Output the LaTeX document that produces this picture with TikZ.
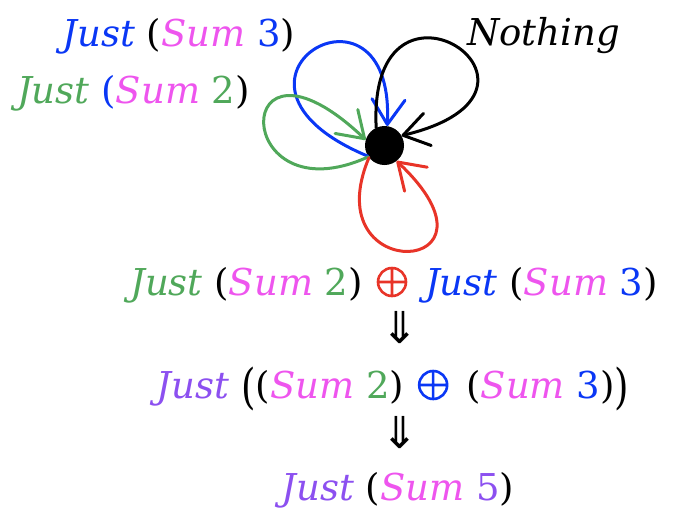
\documentclass[tikz,border=0pt]{standalone}
\usepackage{fontspec}
\setmainfont{DejaVu Serif}
\newfontfamily\symf{DejaVu Sans}
\usetikzlibrary{arrows.meta}
\definecolor{jblue}{RGB}{10,55,245}
\definecolor{jmag}{RGB}{238,85,238}
\definecolor{jgreen}{RGB}{80,168,90}
\definecolor{jred}{RGB}{232,52,40}
\definecolor{jpurple}{RGB}{140,80,240}
\newcommand\cb[1]{\textcolor{jblue}{#1}}
\newcommand\cm[1]{\textcolor{jmag}{#1}}
\newcommand\cg[1]{\textcolor{jgreen}{#1}}
\newcommand\cre[1]{\textcolor{jred}{#1}}
\newcommand\cp[1]{\textcolor{jpurple}{#1}}
\newcommand\oplusd[1]{\hspace{2pt}\tikz[baseline=0pt,x=1pt,y=1pt]{\draw[#1,line width=2.6pt] (15,13) circle (14pt) (1,13)--(29,13) (15,-1)--(15,27);}\hspace{6pt}}
\newcommand\bigpar[1]{\raisebox{-5pt}{\scalebox{1}[1.3]{#1}}}
\begin{document}
\begin{tikzpicture}[x=1pt,y=-1pt,
  lbl/.style={anchor=base, inner sep=0pt, font=\fontsize{37}{42}\selectfont},
  arr/.style={anchor=base, inner sep=0pt, font=\symf\fontsize{44}{44}\selectfont},
  loopline/.style={line width=3pt, line cap=round, -{Straight Barb[length=25pt,width=33pt,round]}}]
\useasboundingbox (0,0) rectangle (680,520);
\node[circle, fill=black, minimum size=39pt, inner sep=0pt] (dot) at (384.5,145.5) {};
% labels
\node[lbl] (j3) at (179,46) {\cb{\textit{Just}} (\cm{\textit{Sum}} \cb{3})};
\node[lbl] (j2) at (133.5,103) {\cg{\textit{Just}} \cb{(}\cm{\textit{Sum}} \cg{2})};
\node[lbl] (no) at (543.5,45) {\textit{Nothing}};
\node[lbl] (l3) at (394,295) {\cg{\textit{Just}} (\cm{\textit{Sum}} \cg{2}) \oplusd{jred} \cb{\textit{Just}} (\cm{\textit{Sum}} \cb{3})};
\node[arr] (a1) at (400,343) {⇓};
\node[lbl] (l4) at (393,398) {\cp{\textit{Just}} \bigpar{(}(\cm{\textit{Sum}} \cg{2}) \oplusd{jblue} (\cm{\textit{Sum}} \cb{3})\bigpar{)}};
\node[arr] (a2) at (400,448) {⇓};
\node[lbl] (l5) at (398,500) {\cp{\textit{Just}} (\cm{\textit{Sum}} \cp{5})};
% loops
\draw[loopline, jblue] (dot.213) .. controls +(-180,-75) and +(8,-167) .. (dot.82);
\draw[loopline, black] (dot.115) .. controls +(-9,-183) and +(187,-45) .. (dot.30);
\draw[loopline, jgreen] (dot.215) .. controls +(-138,63) and +(-137,-130) .. (dot.163);
\draw[loopline, jred] (dot.218) .. controls +(-55,130) and +(122,115) .. (dot.308);
\end{tikzpicture}
\end{document}
